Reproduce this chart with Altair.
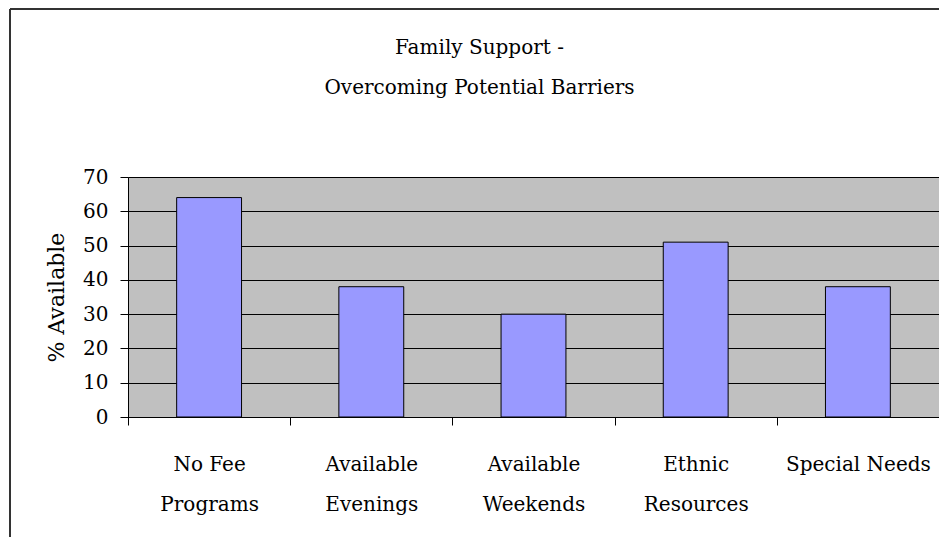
import altair as alt
import pandas as pd

categories = ["No Fee\nPrograms", "Available\nEvenings", "Available\nWeekends", "Ethnic\nResources", "Special Needs"]
values = [64, 38, 30, 51, 38]
y_ticks = [0, 10, 20, 30, 40, 50, 60, 70]
title_lines = ["Family Support -", "Overcoming Potential Barriers"]
y_title = "% Available"

FONT = "DejaVu Serif"
W, H = 811, 240

df = pd.DataFrame({"cat": categories, "value": values})
one = pd.DataFrame({"k": [0]})

x_enc = alt.X(
    "cat:N",
    sort=categories,
    scale=alt.Scale(paddingInner=0, paddingOuter=0),
    axis=alt.Axis(
        title=None,
        labelAngle=0,
        labelExpr="split(datum.label, '\\n')",
        labelFont=FONT,
        labelFontSize=20,
        labelColor="black",
        labelLineHeight=40,
        labelPadding=29,
        labelBaseline="top",
        tickBand="extent",
        tickSize=8,
        tickColor="black",
        domainColor="black",
        grid=False,
    ),
)

y_enc = alt.Y(
    "value:Q",
    scale=alt.Scale(domain=[0, 70], nice=False),
    axis=alt.Axis(
        title=y_title,
        values=y_ticks,
        titleFont=FONT,
        titleFontSize=22,
        titleFontWeight="normal",
        titleColor="black",
        titlePadding=14,
        labelFont=FONT,
        labelFontSize=20,
        labelColor="black",
        labelPadding=12,
        tickSize=8,
        tickColor="black",
        domainColor="black",
        gridColor="black",
        gridOpacity=1,
        gridWidth=1,
    ),
)

bars = alt.Chart(df).mark_bar(
    color="#9999FF", stroke="black", strokeWidth=1, width={"band": 0.4}
).encode(x=x_enc, y=y_enc)

border_left = alt.Chart(one).mark_rule(color="#333333", strokeWidth=2).encode(
    x=alt.value(-118), y=alt.value(-168), y2=alt.value(400)
)
border_top = alt.Chart(one).mark_rule(color="#333333", strokeWidth=2).encode(
    x=alt.value(-118), x2=alt.value(900), y=alt.value(-168)
)

chart = (
    alt.layer(bars, border_left, border_top)
    .properties(
        width=W,
        height=H,
        background="white",
        padding={"left": 120, "top": 169, "right": 0, "bottom": 120},
        autosize=alt.AutoSizeParams(type="none"),
        title=alt.TitleParams(
            text=title_lines,
            font=FONT,
            fontSize=20,
            fontWeight="normal",
            color="black",
            lineHeight=40,
            anchor="middle",
            baseline="bottom",
            offset=-110,
            dx=-54,
        ),
    )
    .configure_view(fill="#C0C0C0", stroke="#808080", strokeWidth=1)
)

chart.save("out.html", embed_options={"renderer": "svg", "actions": False})
